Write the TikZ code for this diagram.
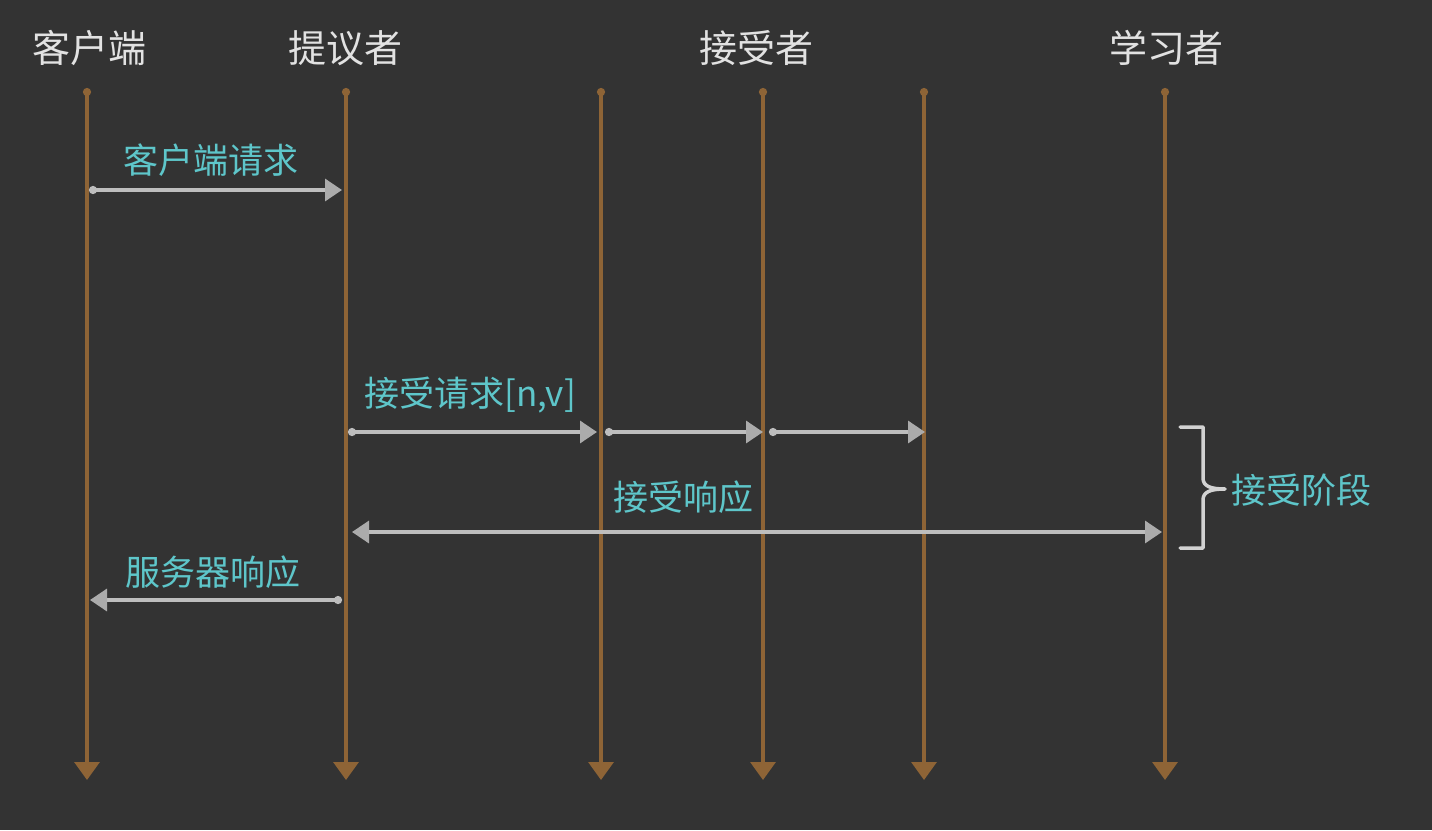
\documentclass[tikz,border=0pt]{standalone}
\usepackage{fontspec}
\setmainfont{Noto Sans CJK SC}
\usetikzlibrary{arrows.meta}
\definecolor{bg}{HTML}{333333}
\definecolor{life}{HTML}{8E6436}
\definecolor{msg}{HTML}{BEBEBE}
\definecolor{tipc}{HTML}{ABABAB}
\definecolor{lbl}{HTML}{5EC6CA}
\definecolor{ttl}{HTML}{E2E2E2}
\definecolor{brc}{HTML}{D2D2D2}
\begin{document}
\begin{tikzpicture}[x=1pt,y=-1pt,
  lifeline/.style={draw=life,line width=3.3pt,{Circle[length=8pt]}-{Triangle[length=18pt,width=25pt]}},
  msgline/.style={draw=msg,line width=3.3pt,line cap=round,{Circle[length=8pt]}-{Triangle[length=17pt,width=22pt,color=tipc]}},
  dblline/.style={draw=msg,line width=3.3pt,{Triangle[length=17pt,width=22pt,color=tipc]}-{Triangle[length=17pt,width=22pt,color=tipc]}},
  lifetitle/.style={text=ttl,font=\fontsize{38}{42}\selectfont,inner sep=0pt},
  msglabel/.style={text=lbl,font=\fontsize{35}{38}\selectfont,inner sep=0pt},
  bracepath/.style={draw=brc,line width=3.5pt,line cap=round,line join=round}]
\fill[bg] (0,0) rectangle (1432,830);
\useasboundingbox (0,0) rectangle (1432,830);

% lifelines
\foreach \n/\x in {a/87,b/346,c/601,d/763,e/924,f/1165}{
  \coordinate (t\n) at (\x,88);
  \coordinate (b\n) at (\x,780);
  \draw[lifeline] (t\n) -- (b\n);
}

% titles
\node[lifetitle] (ta1) at (89,48) {客户端};
\node[lifetitle] (ta2) at (345,48) {提议者};
\node[lifetitle] (ta3) at (756,48) {接受者};
\node[lifetitle] (ta4) at (1166,48) {学习者};

% client request
\coordinate (m1s) at (89,190);
\coordinate (m1e) at (342,190);
\draw[msgline] (m1s) -- (m1e);
\node[msglabel] (l1) at (211,160) {客户端请求};

% accept requests
\coordinate (m2s) at (348,432);
\coordinate (m2e) at (597,432);
\coordinate (m3s) at (605,432);
\coordinate (m3e) at (763,432);
\coordinate (m4s) at (769,432);
\coordinate (m4e) at (925,432);
\draw[msgline] (m2s) -- (m2e);
\draw[msgline] (m3s) -- (m3e);
\draw[msgline] (m4s) -- (m4e);
\node[msglabel] (l2) at (470,395) {接受请求[n,v]};

% accept response
\coordinate (m5s) at (352,532);
\coordinate (m5e) at (1162,532);
\draw[dblline] (m5s) -- (m5e);
\node[msglabel] (l3) at (683,497) {接受响应};

% server response
\coordinate (m6s) at (342,600);
\coordinate (m6e) at (90,600);
\draw[msgline] (m6s) -- (m6e);
\node[msglabel] (l4) at (213,572) {服务器响应};

% brace
\coordinate (bt) at (1180,427);
\coordinate (bm) at (1225,489);
\coordinate (bb) at (1180,548);
\draw[bracepath] (bt) -- (1203,427) -- (1203,478)
  .. controls (1203,486) and (1210,489) .. (bm)
  .. controls (1210,489) and (1203,492) .. (1203,500)
  -- (1203,548) -- (bb);
\node[msglabel,anchor=west] (l5) at (1231,490) {接受阶段};
\end{tikzpicture}
\end{document}
